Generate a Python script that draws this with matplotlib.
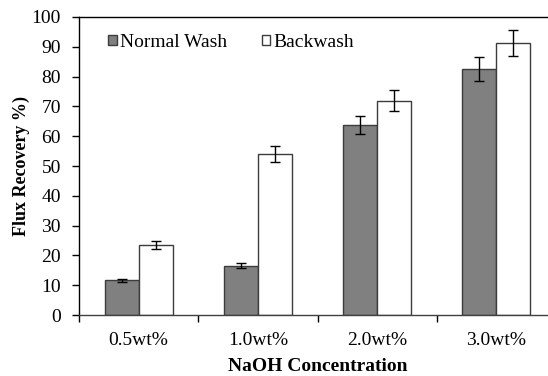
import matplotlib.pyplot as plt
import numpy as np

plt.rcParams['font.family'] = ['Liberation Serif', 'DejaVu Serif']

# flux recovery after cleaning with NaOH
conc = ['0.5wt%', '1.0wt%', '2.0wt%', '3.0wt%']
normal = [11.7, 16.6, 63.9, 82.6]
normal_err = [0.5, 0.9, 3.0, 4.1]
backwash = [23.5, 54.1, 71.9, 91.3]
backwash_err = [1.3, 2.7, 3.6, 4.5]

fig = plt.figure(figsize=(5.48, 3.76), dpi=100)
ax = fig.add_axes([0.1442, 0.1622, 0.8704, 0.7926])

x = np.arange(len(conc))
w = 0.286
ekw = dict(ecolor='black', elinewidth=1, capsize=3.5, capthick=1)
ax.bar(x - w / 2, normal, w, yerr=normal_err, color='#808080',
       edgecolor='#3c3c3c', linewidth=1, label='Normal Wash', error_kw=ekw)
ax.bar(x + w / 2, backwash, w, yerr=backwash_err, color='white',
       edgecolor='#3c3c3c', linewidth=1, label='Backwash', error_kw=ekw)

ax.set_xlim(-0.5, len(conc) - 0.5)
ax.set_ylim(0, 100)
ax.set_yticks(np.arange(0, 101, 10))
ax.set_xticks(x)
ax.set_xticklabels(conc)
ax.set_xticks(np.arange(-0.5, len(conc), 1.0), minor=True)
ax.tick_params(axis='x', which='major', length=0, pad=12, labelsize=14)
ax.tick_params(axis='x', which='minor', length=5, width=1, direction='out')
ax.tick_params(axis='y', length=5, width=1, direction='out', pad=8, labelsize=14)

for s in ['left', 'bottom', 'top']:
    ax.spines[s].set_linewidth(1)
ax.spines['left'].set_color('black')
ax.spines['bottom'].set_color('#404040')
ax.spines['right'].set_visible(False)

ax.set_xlabel('NaOH Concentration', fontsize=14, fontweight='bold', labelpad=7)
ax.set_ylabel('Flux Recovery %)', fontsize=13, fontweight='bold', labelpad=1)

ax.legend(loc='upper left', bbox_to_anchor=(0.033, 0.99), ncol=2, frameon=False,
          fontsize=14, handlelength=0.42, handleheight=0.42, handletextpad=0.2,
          columnspacing=1.75, borderaxespad=0.3)

fig.savefig('out.png', dpi=100)
